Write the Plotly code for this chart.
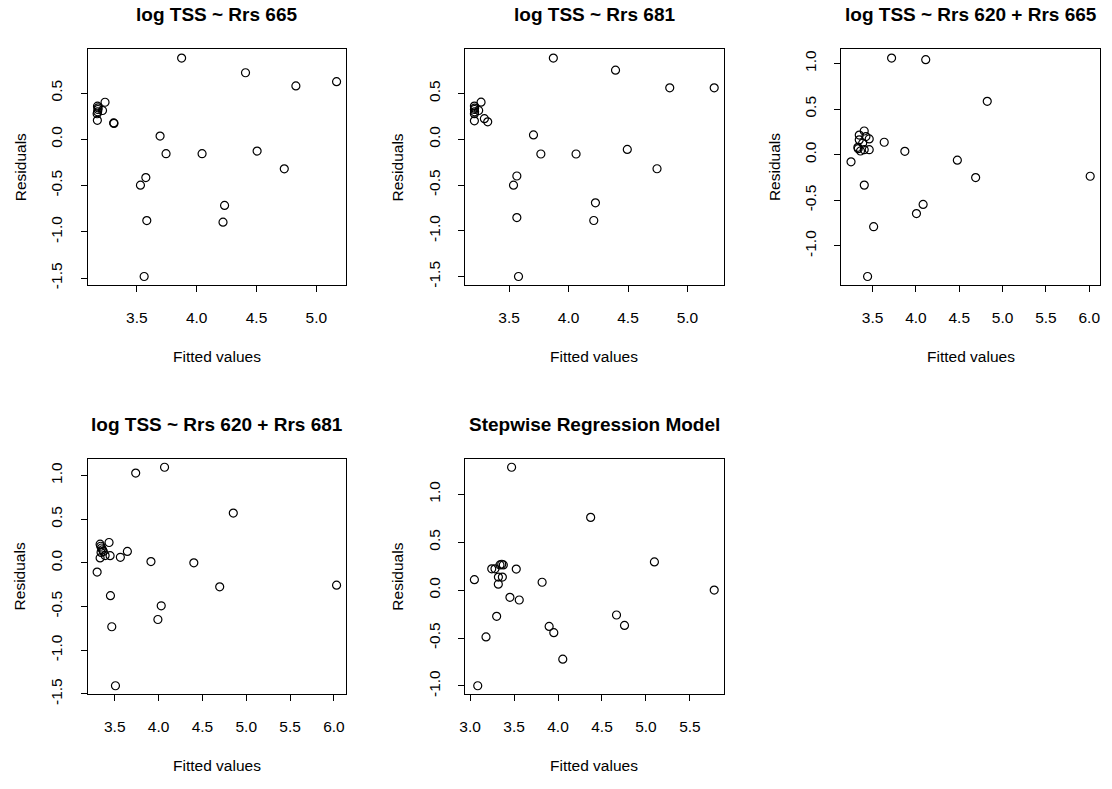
import plotly.graph_objects as go

# ---------------- data ----------------
titles = ["log TSS ~ Rrs 665", "log TSS ~ Rrs 681", "log TSS ~ Rrs 620 + Rrs 665",
          "log TSS ~ Rrs 620 + Rrs 681", "Stepwise Regression Model"]

fitted_665 = [3.874, 4.408, 4.829, 5.169, 3.234, 3.171, 3.175, 3.213, 3.168, 3.172, 3.170,
              3.176, 3.306, 3.309, 3.694, 3.744, 4.045, 4.505, 4.732, 3.530, 3.575, 3.583,
              3.561, 4.233, 4.220]
resid_665 = [0.878, 0.719, 0.577, 0.623, 0.400, 0.358, 0.322, 0.311, 0.276, 0.297, 0.205,
             0.340, 0.177, 0.172, 0.035, -0.156, -0.156, -0.127, -0.319, -0.496, -0.414,
             -0.878, -1.483, -0.715, -0.896]

fitted_681 = [3.872, 4.395, 4.851, 5.225, 3.705, 3.767, 4.063, 4.494, 4.744, 3.537, 3.565,
              3.565, 3.579, 4.226, 4.212, 3.264, 3.208, 3.208, 3.244, 3.208, 3.208, 3.292,
              3.320, 3.210, 3.210]
resid_681 = [0.887, 0.755, 0.562, 0.562, 0.047, -0.161, -0.161, -0.111, -0.322, -0.501,
             -0.401, -0.855, -1.499, -0.694, -0.887, 0.405, 0.362, 0.325, 0.314, 0.279,
             0.201, 0.225, 0.190, 0.300, 0.340]

fitted_620_665 = [3.719, 4.113, 4.823, 6.011, 3.634, 3.872, 4.478, 4.689, 3.404, 3.251,
                  4.083, 4.006, 3.512, 3.442, 3.403, 3.346, 3.423, 3.461, 3.346, 3.385,
                  3.334, 3.403, 3.461, 3.330, 3.360]
resid_620_665 = [1.059, 1.041, 0.585, -0.237, 0.136, 0.036, -0.061, -0.251, -0.334, -0.079,
                 -0.546, -0.646, -0.790, -1.336, 0.259, 0.215, 0.198, 0.172, 0.162, 0.126,
                 0.065, 0.054, 0.054, 0.080, 0.040]

fitted_620_681 = [3.739, 4.068, 4.852, 6.030, 3.644, 3.564, 3.913, 4.402, 4.697, 3.299,
                  3.451, 4.030, 3.992, 3.466, 3.508, 3.435, 3.333, 3.344, 3.333, 3.447,
                  3.390, 3.340, 3.350, 3.360, 3.370]
resid_620_681 = [1.027, 1.094, 0.570, -0.255, 0.131, 0.064, 0.015, 0.000, -0.274, -0.105,
                 -0.375, -0.491, -0.648, -0.731, -1.406, 0.233, 0.214, 0.120, 0.056, 0.082,
                 0.083, 0.190, 0.170, 0.150, 0.130]

fitted_step = [3.472, 4.371, 5.096, 5.776, 3.049, 3.525, 3.819, 3.453, 3.559, 3.302, 3.181,
               3.087, 3.899, 3.952, 4.054, 4.665, 4.756, 3.321, 3.246, 3.283, 3.340, 3.378,
               3.322, 3.367, 3.360]
resid_step = [1.282, 0.759, 0.294, 0.000, 0.109, 0.219, 0.082, -0.075, -0.103, -0.274,
              -0.489, -0.998, -0.379, -0.444, -0.721, -0.260, -0.369, 0.062, 0.222, 0.222,
              0.263, 0.263, 0.136, 0.136, 0.270]

x_ticks = [[3.5, 4.0, 4.5, 5.0], [3.5, 4.0, 4.5, 5.0], [3.5, 4.0, 4.5, 5.0, 5.5, 6.0],
           [3.5, 4.0, 4.5, 5.0, 5.5, 6.0], [3.0, 3.5, 4.0, 4.5, 5.0, 5.5]]
y_ticks = [[-1.5, -1.0, -0.5, 0.0, 0.5], [-1.5, -1.0, -0.5, 0.0, 0.5],
           [-1.0, -0.5, 0.0, 0.5, 1.0], [-1.5, -1.0, -0.5, 0.0, 0.5, 1.0],
           [-1.0, -0.5, 0.0, 0.5, 1.0]]

fitted = [fitted_665, fitted_681, fitted_620_665, fitted_620_681, fitted_step]
resid = [resid_665, resid_681, resid_620_665, resid_620_681, resid_step]

# ---------------- layout ----------------
W, H = 1112, 789
col_px = [(83, 343), (462.3, 722.7), (841, 1100.7)]
row_px = [(50, 289.3), (465, 704.3)]
cells = [(0, 0), (0, 1), (0, 2), (1, 0), (1, 1)]
FONT = "Liberation Sans, Arial, sans-serif"


def pad_range(v):
    lo, hi = min(v), max(v)
    d = (hi - lo) * 0.04
    return [lo - d, hi + d]


fig = go.Figure()
annotations = []
for i in range(5):
    r, c = cells[i]
    x0, x1 = col_px[c]
    y0, y1 = row_px[r]
    sfx = "" if i == 0 else str(i + 1)
    fig.add_trace(go.Scatter(
        x=fitted[i], y=resid[i], mode="markers",
        marker=dict(symbol="circle-open", size=8, color="black",
                    line=dict(width=1.2, color="black")),
        xaxis="x" + sfx, yaxis="y" + sfx, showlegend=False, hoverinfo="x+y"))
    common = dict(showline=True, mirror=True, linecolor="black", linewidth=1,
                  ticks="outside", ticklen=6, tickcolor="black", tickwidth=1,
                  showgrid=False, zeroline=False,
                  tickfont=dict(family=FONT, size=15.5, color="black"))
    fig.layout["xaxis" + sfx] = dict(
        domain=[x0 / W, x1 / W], anchor="y" + sfx, range=pad_range(fitted[i]),
        tickvals=x_ticks[i], ticktext=[f"{v:.1f}" for v in x_ticks[i]],
        ticklabelstandoff=12, **common)
    fig.layout["yaxis" + sfx] = dict(
        domain=[1 - y1 / H, 1 - y0 / H], anchor="x" + sfx, range=pad_range(resid[i]),
        tickvals=y_ticks[i], ticktext=[f"{v:.1f}" for v in y_ticks[i]],
        tickangle=-90, ticklabelstandoff=12, **common)
    cx = (x0 + x1) / 2 / W
    annotations.append(dict(text="<b>" + titles[i] + "</b>", x=cx, y=1 - (y0 - 35) / H,
                            xref="paper", yref="paper", showarrow=False,
                            xanchor="center", yanchor="middle",
                            font=dict(family=FONT, size=19, color="black")))
    annotations.append(dict(text="Fitted values", x=cx, y=1 - (y1 + 72) / H,
                            xref="paper", yref="paper", showarrow=False,
                            xanchor="center", yanchor="middle",
                            font=dict(family=FONT, size=15.5, color="black")))
    annotations.append(dict(text="Residuals", x=(x0 - 68) / W, y=1 - (y0 + y1) / 2 / H,
                            xref="paper", yref="paper", showarrow=False, textangle=-90,
                            xanchor="center", yanchor="middle",
                            font=dict(family=FONT, size=15.5, color="black")))

fig.update_layout(width=W, height=H, margin=dict(l=0, r=0, t=0, b=0),
                  paper_bgcolor="white", plot_bgcolor="white",
                  annotations=annotations)

fig.write_html("out.html")
